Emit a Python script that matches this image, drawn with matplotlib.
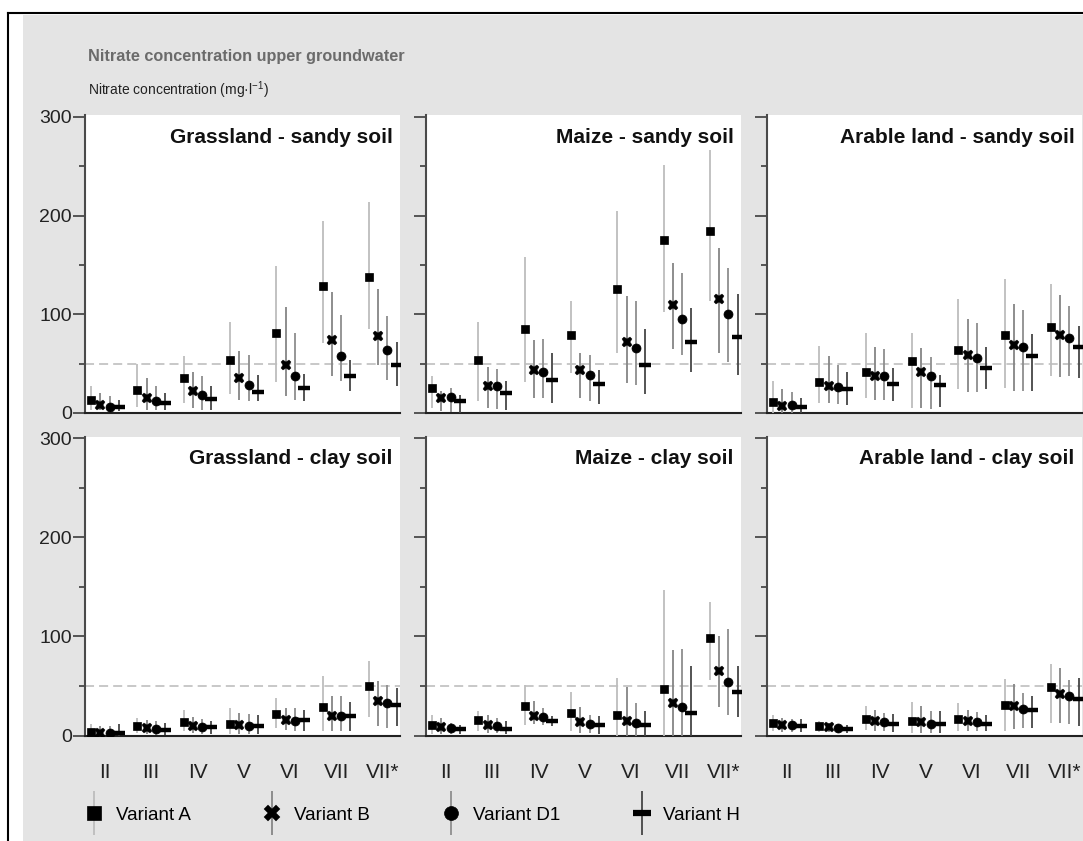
import numpy as np
import matplotlib
matplotlib.use("Agg")
import matplotlib.pyplot as plt
from matplotlib import font_manager as fm
from matplotlib.patches import Rectangle
from matplotlib.lines import Line2D
from matplotlib.container import ErrorbarContainer
from matplotlib.legend_handler import HandlerErrorbar

# ---------------- data ----------------
categories = ["II", "III", "IV", "V", "VI", "VII", "VII*"]
variants = ["Variant A", "Variant B", "Variant D1", "Variant H"]
panel_titles = ["Grassland - sandy soil", "Maize - sandy soil", "Arable land - sandy soil",
                "Grassland - clay soil", "Maize - clay soil", "Arable land - clay soil"]

# rows: A, B, D1, H ; columns: II..VII*
gs_mean = [[13, 23, 35, 54, 81, 129, 138],
           [8, 15, 22, 35, 49, 74, 78],
           [6, 12, 18, 28, 38, 58, 64],
           [6, 10, 14, 21, 25, 37, 49]]
gs_hi = [[27, 50, 58, 92, 149, 195, 214],
         [20, 35, 42, 63, 107, 123, 126],
         [17, 27, 37, 59, 81, 99, 98],
         [13, 20, 27, 39, 40, 54, 72]]
gs_lo = [[3, 6, 10, 19, 31, 71, 85],
         [3, 3, 5, 13, 17, 38, 49],
         [2, 3, 3, 12, 13, 32, 33],
         [2, 3, 3, 12, 12, 22, 27]]

ms_mean = [[25, 54, 85, 79, 126, 175, 184],
           [15, 27, 44, 44, 72, 109, 116],
           [16, 27, 42, 39, 66, 95, 100],
           [12, 20, 33, 29, 49, 72, 77]]
ms_hi = [[38, 92, 158, 114, 205, 251, 267],
         [22, 47, 74, 61, 119, 152, 167],
         [25, 45, 75, 59, 114, 142, 147],
         [18, 32, 61, 44, 85, 106, 121]]
ms_lo = [[5, 12, 31, 41, 61, 102, 113],
         [2, 5, 15, 15, 30, 65, 61],
         [1, 4, 15, 12, 28, 59, 52],
         [0, 3, 10, 9, 19, 42, 39]]

as_mean = [[11, 31, 42, 53, 64, 79, 87],
           [7, 27, 37, 42, 59, 69, 79],
           [8, 26, 37, 37, 56, 67, 76],
           [6, 24, 29, 28, 46, 58, 67]]
as_hi = [[32, 68, 81, 81, 116, 136, 131],
         [24, 58, 67, 66, 95, 110, 120],
         [21, 49, 65, 57, 91, 104, 108],
         [15, 42, 46, 39, 67, 80, 88]]
as_lo = [[0, 10, 15, 5, 24, 25, 38],
         [0, 10, 13, 5, 21, 22, 36],
         [0, 9, 13, 4, 21, 22, 37],
         [0, 8, 12, 6, 24, 22, 35]]

gc_mean = [[4, 10, 14, 12, 22, 29, 50],
           [3, 8, 10, 11, 16, 20, 35],
           [3, 7, 9, 10, 15, 20, 33],
           [3, 6, 9, 10, 16, 20, 31]]
gc_hi = [[12, 18, 26, 28, 38, 60, 75],
         [10, 16, 19, 23, 28, 40, 55],
         [10, 15, 17, 22, 28, 40, 51],
         [12, 13, 15, 21, 26, 34, 48]]
gc_lo = [[0, 3, 5, 2, 8, 5, 19],
         [0, 2, 3, 2, 6, 5, 10],
         [0, 1, 2, 2, 5, 5, 8],
         [0, 1, 2, 2, 5, 5, 10]]

mc_mean = [[11, 16, 30, 23, 21, 47, 98],
           [9, 11, 20, 14, 15, 33, 65],
           [8, 10, 19, 12, 13, 29, 54],
           [7, 7, 15, 11, 11, 23, 44]]
mc_hi = [[21, 25, 51, 44, 58, 147, 135],
         [18, 21, 35, 29, 49, 86, 101],
         [13, 18, 28, 21, 33, 87, 108],
         [11, 15, 20, 20, 25, 70, 70]]
mc_lo = [[2, 5, 11, 5, 0, 0, 56],
         [2, 3, 12, 3, 0, 0, 29],
         [2, 3, 11, 3, 0, 0, 21],
         [2, 2, 10, 2, 0, 0, 19]]

ac_mean = [[13, 10, 17, 15, 17, 31, 49],
           [11, 9, 15, 14, 15, 30, 42],
           [11, 8, 14, 12, 14, 27, 40],
           [10, 7, 12, 12, 12, 26, 37]]
ac_hi = [[21, 15, 30, 34, 33, 57, 72],
         [18, 13, 26, 30, 26, 52, 68],
         [17, 12, 23, 25, 24, 43, 56],
         [17, 11, 22, 25, 21, 40, 58]]
ac_lo = [[5, 4, 6, 3, 5, 5, 13],
         [4, 4, 5, 3, 5, 7, 13],
         [4, 3, 5, 3, 5, 8, 12],
         [4, 3, 4, 3, 5, 8, 10]]

limit_value = 50

panels = [(gs_mean, gs_lo, gs_hi), (ms_mean, ms_lo, ms_hi), (as_mean, as_lo, as_hi),
          (gc_mean, gc_lo, gc_hi), (mc_mean, mc_lo, mc_hi), (ac_mean, ac_lo, ac_hi)]

# ---------------- style ----------------
names = {f.name for f in fm.fontManager.ttflist}
REG = "Liberation Sans" if "Liberation Sans" in names else "DejaVu Sans"
NARROW = "Liberation Sans Narrow" if "Liberation Sans Narrow" in names else REG
narrow_ok = NARROW != REG
plt.rcParams["font.family"] = [REG, "DejaVu Sans"]

markers = ["s", "X", "o", "_"]
msizes = [6.0, 7.5, 6.5, 9]
mews = [0.5, 0.3, 0.5, 3.2]
ecolors = ["#bdbdbd", "#858585", "#8e8e8e", "#454545"]
offsets = [-0.3, -0.1, 0.1, 0.3]

W, H = 1083, 841
fig = plt.figure(figsize=(W / 100, H / 100), dpi=100, facecolor="white")

# background and frame
fig.patches.append(Rectangle((23 / W, 0), 1, 1 - 15 / H, transform=fig.transFigure,
                             facecolor="#e4e4e4", edgecolor="none", zorder=-10))
fig.lines.append(Line2D([7.5 / W, 7.5 / W], [0, 1 - 13 / H], transform=fig.transFigure,
                        color="black", lw=1.5))
fig.lines.append(Line2D([7.5 / W, 1], [1 - 13 / H, 1 - 13 / H], transform=fig.transFigure,
                        color="black", lw=1.5))

lefts = [85, 426, 767]
pw = 315
rows = [(115, 413), (436.5, 735.5)]

x = np.arange(len(categories))
axes = []
for i, (mean, lo, hi) in enumerate(panels):
    r, c = divmod(i, 3)
    top, bot = rows[r]
    ax = fig.add_axes([lefts[c] / W, 1 - bot / H, pw / W, (bot - top) / H])
    ax.set_facecolor("white")
    ax.set_xlim(-0.43, 6.37)
    ax.set_ylim(0, 302)
    ax.axhline(limit_value, color="#c4c4c4", lw=1.3, ls=(0, (5, 2.8)), zorder=1)
    for v in range(4):
        m = np.array(mean[v], float)
        l = np.array(lo[v], float)
        h = np.array(hi[v], float)
        ax.errorbar(x + offsets[v], m, yerr=[m - l, h - m], fmt=markers[v],
                    color="black", mfc="black", mec="black", ms=msizes[v], mew=mews[v],
                    ecolor=ecolors[v], elinewidth=1.3, capsize=0, zorder=3 + v)
    for s in ["top", "right"]:
        ax.spines[s].set_visible(False)
    ax.spines["left"].set_color("#4a4a4a")
    ax.spines["left"].set_linewidth(1.5)
    ax.spines["bottom"].set_color("#222222")
    ax.spines["bottom"].set_linewidth(1.5)
    ax.set_yticks([0, 100, 200, 300])
    ax.set_yticks([50, 150, 250], minor=True)
    ax.tick_params(axis="y", which="major", length=8.5, width=1.3, color="#4a4a4a",
                   pad=1, labelsize=14, labelcolor="#222222")
    ax.tick_params(axis="y", which="minor", length=4.5, width=1.3, color="#4a4a4a")
    if c != 0:
        ax.tick_params(axis="y", labelleft=False)
    ax.set_xticks(x)
    if r == 1:
        ax.set_xticklabels(categories, fontfamily=NARROW, fontsize=15, color="#222222")
        ax.tick_params(axis="x", length=0, pad=20)
    else:
        ax.tick_params(axis="x", length=0, labelbottom=False)
    ax.text(0.976, 0.925, panel_titles[i], transform=ax.transAxes, ha="right", va="center",
            fontsize=15, fontweight="bold", color="#111111")
    axes.append(ax)

fig.text(88 / W, 1 - 61 / H, "Nitrate concentration upper groundwater", fontsize=11.7,
         fontweight="bold", color="#6b6b6b", ha="left", va="baseline")
fig.text(88 / W, 1 - 95 / H, "Nitrate concentration (mg\u00b7l$^{\\mathregular{-1}}$)",
         fontsize=11.5 if narrow_ok else 10, fontfamily=NARROW, color="#222222",
         ha="left", va="baseline")

# legend proxies (larger markers)
leg_ms = [10, 11, 10, 13]
leg_mew = [0.5, 0.3, 0.5, 4.5]
handles = []
for v in range(4):
    hnd = axes[0].errorbar([np.nan], [np.nan], yerr=[[1], [1]], fmt=markers[v], color="black",
                           ms=leg_ms[v], mew=leg_mew[v], ecolor=ecolors[v], elinewidth=1.3,
                           capsize=0, label=variants[v])
    handles.append(hnd)

fig.legend(handles, variants, loc="center left", bbox_to_anchor=(85 / W, 1 - 815 / H),
           ncol=4, frameon=False, borderpad=0, borderaxespad=0, handlelength=1.0,
           handletextpad=0.65, columnspacing=3.85,
           prop={"family": NARROW, "size": 16 if narrow_ok else 13.5},
           handler_map={ErrorbarContainer: HandlerErrorbar(yerr_size=1.17)})

fig.savefig("out.png", dpi=100, facecolor=fig.get_facecolor())
